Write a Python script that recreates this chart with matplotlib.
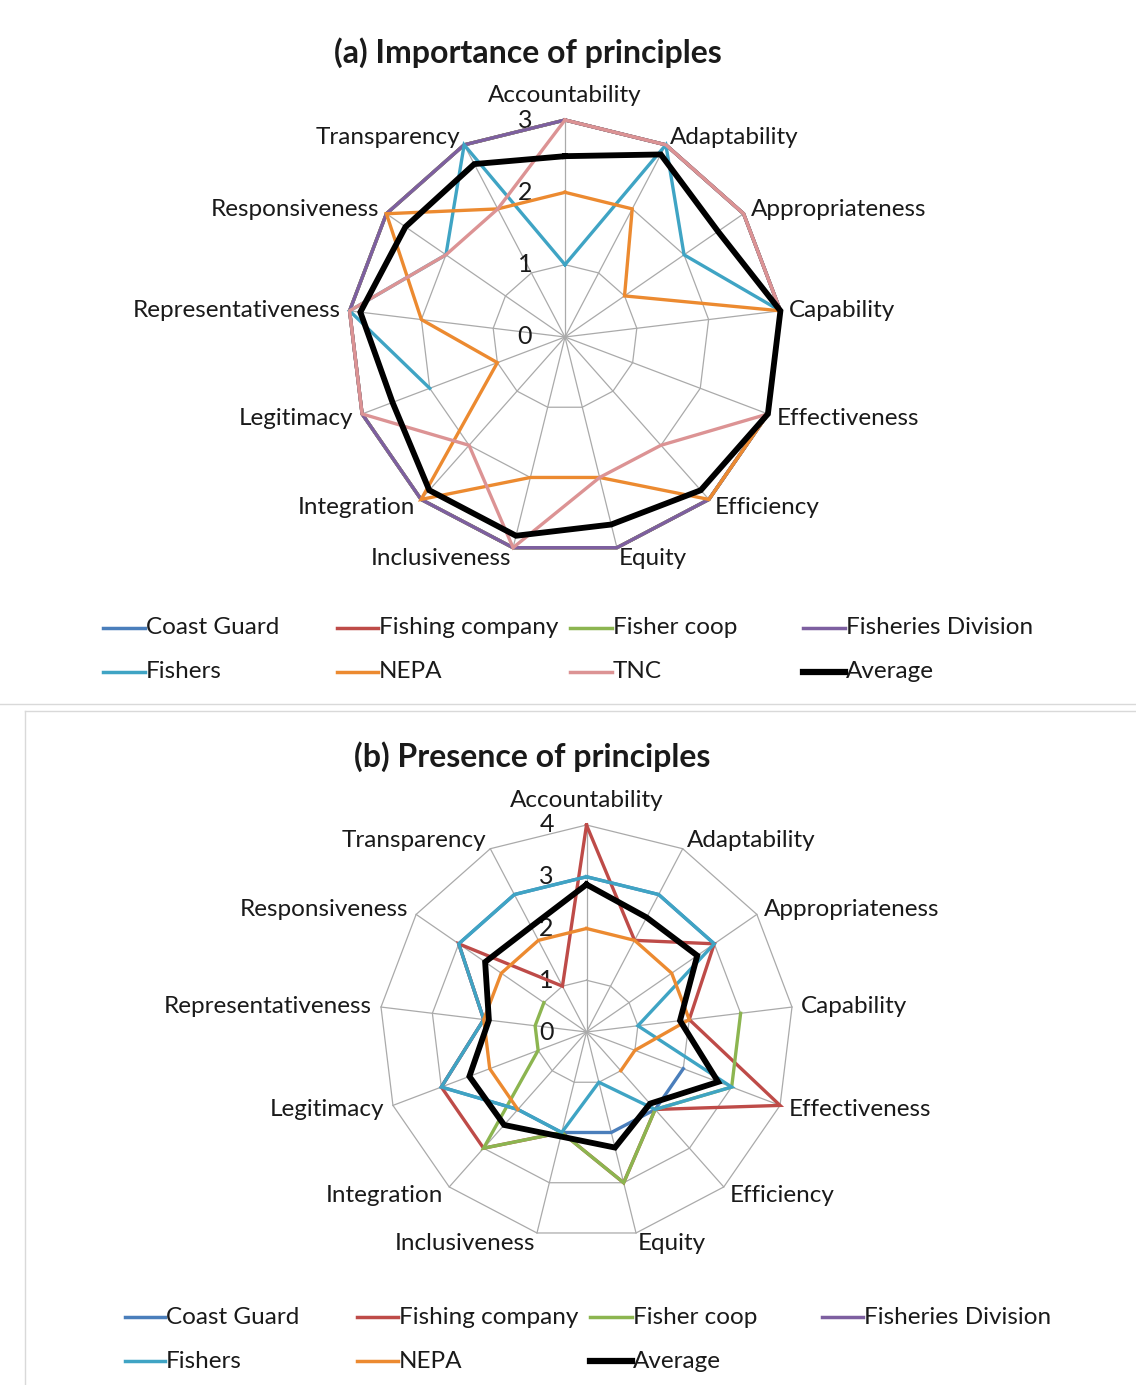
import numpy as np
import matplotlib
matplotlib.use("Agg")
import matplotlib.pyplot as plt
from matplotlib.lines import Line2D

nan = np.nan

principles = ["Accountability", "Adaptability", "Appropriateness", "Capability",
              "Effectiveness", "Efficiency", "Equity", "Inclusiveness", "Integration",
              "Legitimacy", "Representativeness", "Responsiveness", "Transparency"]

# (a) Importance of principles (scale 0-3)
imp_coast_guard = [3, 3, 3, 3, 3, 3, 3, 3, 3, 3, 3, 3, 3]
imp_fishing_company = [3, 3, 3, 3, 3, 3, 3, 3, 3, 3, 3, 3, 3]
imp_fisher_coop = [3, 3, 3, 3, 3, 3, 3, 3, 3, 3, 3, 3, 3]
imp_fisheries_division = [3, 3, 3, 3, 3, 3, 3, 3, 3, 3, 3, 3, 3]
imp_fishers = [1, 3, 2, 3, nan, nan, nan, nan, nan, 2, 3, 2, 3]
imp_nepa = [2, 2, 1, 3, 3, 3, 2, 2, 3, 1, 2, 3, 2]
imp_tnc = [3, 3, 3, 3, 3, 2, 2, 3, 2, 3, 3, 2, 2]
imp_average = [2.5, 2.85, 2.57, 3, 3, 2.83, 2.67, 2.83, 2.83, 2.55, 2.85, 2.68, 2.7]

# (b) Presence of principles (scale 0-4)
pre_coast_guard = [3, 3, 3, nan, 2, 2, 2, 2, 2, 3, 2, 3, 3]
pre_fishing_company = [4, 2, 3, 2, 4, 2, 3, 2, 3, 3, 2, 3, 1]
pre_fisher_coop = [nan, nan, nan, 3, 3, 2, 3, 2, 3, 1, 1, 1, nan]
pre_fisheries_division = [nan] * 13
pre_fishers = [3, 3, 3, 1, 3, 2, 1, 2, 2, 3, 2, 3, 3]
pre_nepa = [2, 2, 2, 2, 1, 1, nan, nan, 2, 2, 2, 2, 2]
pre_average = [2.85, 2.5, 2.6, 1.82, 2.72, 1.85, 2.3, 2.08, 2.4, 2.42, 1.9, 2.38, 2.3]

COLORS = {
    "Coast Guard": "#4A7EBB",
    "Fishing company": "#BE4B48",
    "Fisher coop": "#8CB550",
    "Fisheries Division": "#7D5FA0",
    "Fishers": "#3FA4C4",
    "NEPA": "#EC8A30",
    "TNC": "#DC9394",
    "Average": "#000000",
}

FONT = "Lato"
plt.rcParams["font.family"] = [FONT, "DejaVu Sans"]
LABEL_SIZE = 17.5
TEXT_COLOR = "#1a1a1a"

W, H = 1136, 1385
fig = plt.figure(figsize=(W / 100, H / 100), dpi=100)
fig.patch.set_facecolor("white")


def fx(x):
    return x / W


def fy(y):
    return 1 - y / H


def radar(center, radius, rmax, series, title, title_xy):
    cx, cy = center
    ax = fig.add_axes([fx(cx - radius), fy(cy + radius), 2 * radius / W, 2 * radius / H],
                      projection="polar")
    ax.set_theta_zero_location("N")
    ax.set_theta_direction(-1)
    ax.set_ylim(0, rmax)
    ax.grid(False)
    ax.set_xticks([])
    ax.set_yticks([])
    ax.spines["polar"].set_visible(False)
    ax.patch.set_visible(False)

    n = len(principles)
    angles = np.arange(n) * 2 * np.pi / n
    closed = np.append(angles, angles[0])

    # polygon grid and spokes
    for k in range(1, rmax + 1):
        ax.plot(closed, [k] * (n + 1), color="#aaaaaa", lw=0.9, zorder=1, clip_on=False)
    for a in angles:
        ax.plot([a, a], [0, rmax], color="#aaaaaa", lw=0.9, zorder=1, clip_on=False)

    # radial value labels
    for k in range(0, rmax + 1):
        ax.annotate(str(k), xy=(0, k), xytext=(-40, 0), textcoords="offset pixels",
                    ha="center", va="center", fontsize=18, color=TEXT_COLOR, zorder=2)

    # category labels
    for a, name in zip(angles, principles):
        s, c = np.sin(a), np.cos(a)
        if abs(s) < 1e-6:
            ax.annotate(name, xy=(a, rmax), xytext=(0, 14), textcoords="offset pixels",
                        ha="center", va="bottom", fontsize=LABEL_SIZE, color=TEXT_COLOR)
        else:
            ax.annotate(name, xy=(a, rmax), xytext=(9 * s, 10 * c - 1),
                        textcoords="offset pixels", ha="left" if s > 0 else "right",
                        va="center", fontsize=LABEL_SIZE, color=TEXT_COLOR)

    for name, vals in series:
        v = np.asarray(vals, dtype=float)
        lw = 4.2 if name == "Average" else 2.4
        ax.plot(closed, np.append(v, v[0]), color=COLORS[name], lw=lw,
                zorder=3, clip_on=False, solid_joinstyle="miter")

    fig.text(fx(title_xy[0]), fy(title_xy[1]), title, ha="center", va="center",
             fontsize=23, fontweight="bold", color=TEXT_COLOR)
    return ax


def legend(rows, row_y, handle_x):
    for r, names in enumerate(rows):
        for c, name in enumerate(names):
            x0, x1 = handle_x[c]
            y = row_y[r]
            lw = 4.5 if name == "Average" else 2.5
            fig.add_artist(Line2D([fx(x0), fx(x1)], [fy(y), fy(y)],
                                  transform=fig.transFigure, color=COLORS[name], lw=lw))
            fig.text(fx(x1 + 1), fy(y), name, ha="left", va="center",
                     fontsize=LABEL_SIZE, color=TEXT_COLOR)


series_a = [("Coast Guard", imp_coast_guard), ("Fishing company", imp_fishing_company),
            ("Fisher coop", imp_fisher_coop), ("Fisheries Division", imp_fisheries_division),
            ("Fishers", imp_fishers), ("NEPA", imp_nepa), ("TNC", imp_tnc),
            ("Average", imp_average)]
series_b = [("Coast Guard", pre_coast_guard), ("Fishing company", pre_fishing_company),
            ("Fisher coop", pre_fisher_coop), ("Fisheries Division", pre_fisheries_division),
            ("Fishers", pre_fishers), ("NEPA", pre_nepa), ("Average", pre_average)]

radar((565, 337), 217, 3, series_a, "(a) Importance of principles", (528, 53))
radar((586.5, 1032), 207, 4, series_b, "(b) Presence of principles", (532, 757))

legend([["Coast Guard", "Fishing company", "Fisher coop", "Fisheries Division"],
        ["Fishers", "NEPA", "TNC", "Average"]],
       [628, 672], [(103, 145), (337, 378), (570, 612), (803, 845)])
legend([["Coast Guard", "Fishing company", "Fisher coop", "Fisheries Division"],
        ["Fishers", "NEPA", "Average"]],
       [1317, 1361], [(125, 165), (357, 398), (590, 632), (822, 863)])

# panel frames
frame = "#d9d9d9"
fig.add_artist(Line2D([fx(0), fx(W)], [fy(704), fy(704)], transform=fig.transFigure,
                      color=frame, lw=1))
fig.add_artist(Line2D([fx(25), fx(W)], [fy(711), fy(711)], transform=fig.transFigure,
                      color=frame, lw=1))
fig.add_artist(Line2D([fx(25), fx(25)], [fy(711), fy(H)], transform=fig.transFigure,
                      color=frame, lw=1))

fig.savefig("out.png", dpi=100, facecolor="white")
